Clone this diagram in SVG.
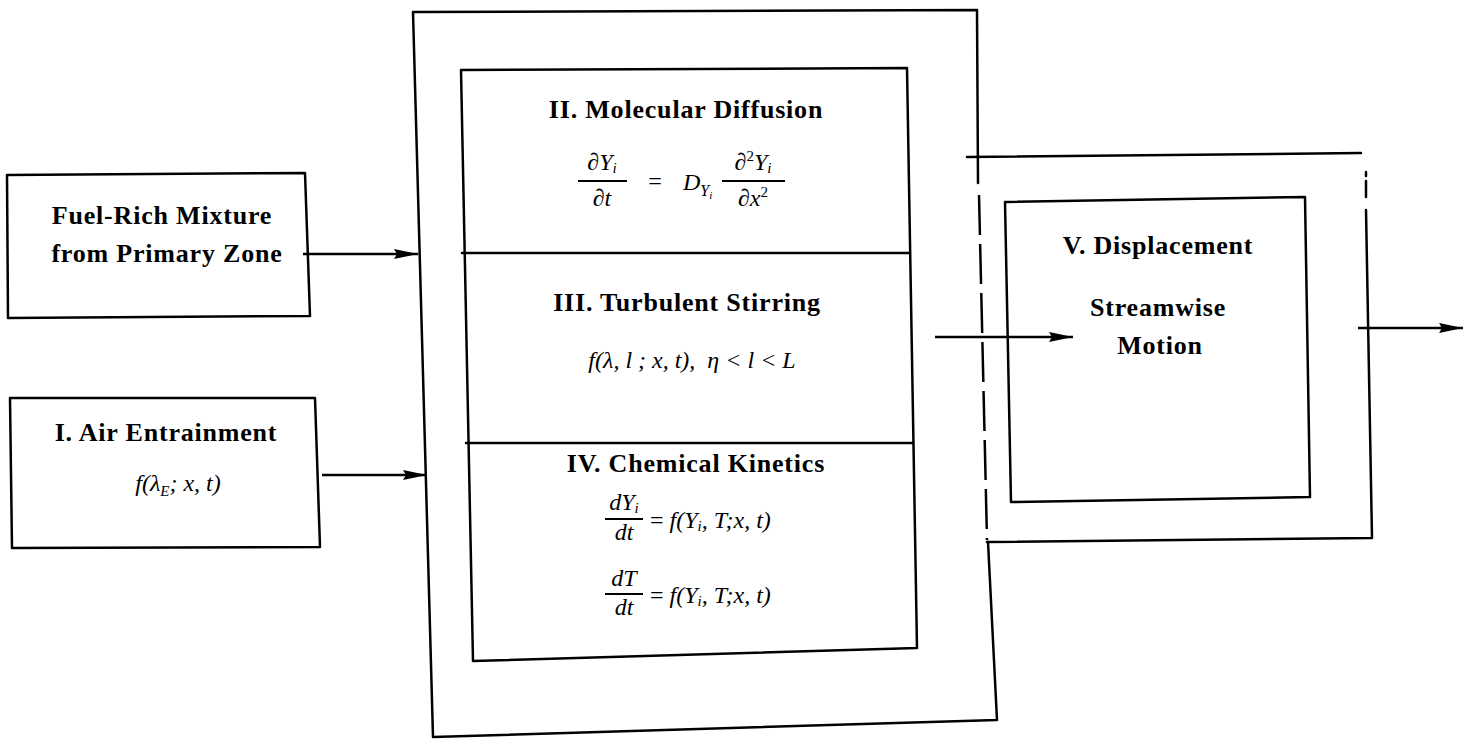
<svg xmlns="http://www.w3.org/2000/svg" width="1476" height="740" viewBox="0 0 1476 740">
<style>
.bx{fill:none;stroke:#000;stroke-width:2.5;stroke-linejoin:round;stroke-linecap:round}
.dash{stroke-dasharray:40 9;stroke-linecap:butt}
.t{font-family:"Liberation Serif",serif;font-weight:bold;font-size:26px;letter-spacing:0.8px;text-anchor:middle;fill:#000}
.m{font-family:"Liberation Serif",serif;font-style:italic;font-size:24px;fill:#000}
.up{font-style:normal}
.sb{font-size:15px}
.fr{stroke:#000;stroke-width:2}
.c{fill:none;stroke:#000;stroke-width:2.5}
</style>
<defs>
<marker id="ah" markerUnits="userSpaceOnUse" markerWidth="26" markerHeight="11" refX="24" refY="5.5" orient="auto">
<path d="M0,0.5 L24,5.5 L0,10.5 L3,5.5 Z" fill="#000"/>
</marker>
</defs>
<rect width="1476" height="740" fill="#fff"/>

<g id="outer-box">
<path class="bx" d="M978,183 L977,10 L413,12 L433,737 L997,720 L988,542"/>
<path class="bx dash" d="M979,195 L987,540"/>
</g>

<g id="mixing-box">
<path class="bx" d="M461,70 L907,68 L917,648 L473,661 Z"/>
<path class="bx" d="M462,253 L910,253"/>
<path class="bx" d="M466,443 L913,443"/>
</g>

<g id="molecular-diffusion">
<text class="t" x="686" y="118">II. Molecular Diffusion</text>
<text class="m" x="602" y="170" text-anchor="middle">∂Y<tspan class="sb" dy="3">i</tspan></text>
<line class="fr" x1="578" y1="181" x2="627" y2="181"/>
<text class="m" x="602" y="206" text-anchor="middle">∂t</text>
<text class="m up" x="655" y="189" text-anchor="middle">=</text>
<text class="m" x="683" y="190">D<tspan font-size="16" dy="6">Y</tspan><tspan font-size="11" dy="3">i</tspan></text>
<line class="fr" x1="722" y1="181" x2="785" y2="181"/>
<text class="m" x="753" y="170" text-anchor="middle">∂<tspan class="sb up" dy="-9">2</tspan><tspan dy="9">Y</tspan><tspan class="sb" dy="3">i</tspan></text>
<text class="m" x="753" y="206" text-anchor="middle">∂x<tspan class="sb up" dy="-9">2</tspan></text>
</g>

<g id="turbulent-stirring">
<text class="t" x="687" y="311">III. Turbulent Stirring</text>
<text class="m" x="692" y="368" text-anchor="middle">f(λ, l ; x, t),&#160;&#160;η &lt; l &lt; L</text>
</g>

<g id="chemical-kinetics">
<text class="t" x="696" y="472">IV. Chemical Kinetics</text>
<text class="m" x="624" y="510" text-anchor="middle">dY<tspan class="sb" dy="3">i</tspan></text>
<line class="fr" x1="605" y1="519" x2="643" y2="519"/>
<text class="m" x="624" y="540" text-anchor="middle">dt</text>
<text class="m" x="650" y="528"><tspan class="up">=</tspan> f(Y<tspan class="sb" dy="3">i</tspan><tspan dy="-3">, T;x, t)</tspan></text>
<text class="m" x="624" y="586" text-anchor="middle">dT</text>
<line class="fr" x1="605" y1="594" x2="643" y2="594"/>
<text class="m" x="624" y="615" text-anchor="middle">dt</text>
<text class="m" x="650" y="603"><tspan class="up">=</tspan> f(Y<tspan class="sb" dy="3">i</tspan><tspan dy="-3">, T;x, t)</tspan></text>
</g>

<g id="fuel-rich-mixture">
<path class="bx" d="M7,175 L305,173 L310,316 L8,318 Z"/>
<text class="t" x="162" y="224">Fuel-Rich Mixture</text>
<text class="t" x="167" y="262">from Primary Zone</text>
</g>

<g id="air-entrainment">
<path class="bx" d="M10,398 L315,398 L320,547 L12,548 Z"/>
<text class="t" x="166" y="441">I. Air Entrainment</text>
<text class="m" x="178" y="491" text-anchor="middle">f(λ<tspan class="sb" dy="5">E</tspan><tspan dy="-5">; x, t)</tspan></text>
</g>

<g id="displacement-frame">
<path class="bx" d="M967,157 L1361,153"/>
<path class="bx" d="M1366,172 L1366,176 M1366,181 L1366,197"/>
<path class="bx" d="M1366,210 L1372,538 L987,542"/>
</g>

<g id="displacement">
<path class="bx" d="M1005,202 L1305,197 L1310,497 L1011,502 Z"/>
<text class="t" x="1158" y="254">V. Displacement</text>
<text class="t" x="1158" y="316">Streamwise</text>
<text class="t" x="1160" y="354">Motion</text>
</g>

<g id="connectors">
<line class="c" x1="303" y1="254" x2="418" y2="254" marker-end="url(#ah)"/>
<line class="c" x1="322" y1="475" x2="427" y2="475" marker-end="url(#ah)"/>
<line class="c" x1="935" y1="337" x2="1073" y2="337" marker-end="url(#ah)"/>
<line class="c" x1="1358" y1="328" x2="1463" y2="328" marker-end="url(#ah)"/>
</g>
</svg>
